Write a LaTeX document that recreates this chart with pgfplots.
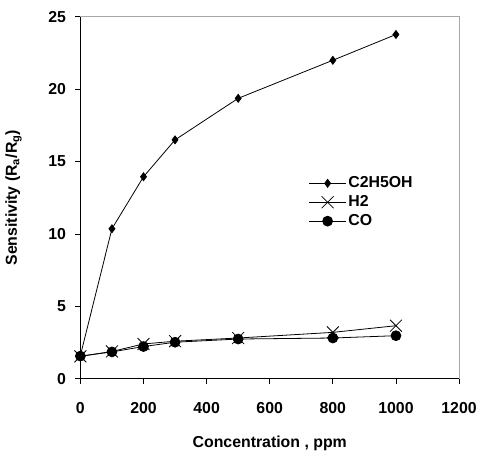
\documentclass[border=0pt]{standalone}
\usepackage{fontspec}
\setmainfont{Liberation Sans}
\usepackage{pgfplots}
\pgfplotsset{compat=1.18}
\begin{document}
\fontsize{16}{19}\selectfont\bfseries
\begin{tikzpicture}
\begin{axis}[
    width=382pt, height=365pt, scale only axis,
    xmin=0, xmax=1200, ymin=0, ymax=25,
    xtick={0,200,...,1200}, ytick={0,5,...,25},
    axis x line*=bottom, axis y line*=left,
    axis line style={line width=1.2pt, -},
    tick align=outside, major tick length=5pt,
    tick style={black, line width=0.8pt},
    /pgf/number format/assume math mode=true,
    /pgf/number format/set thousands separator={},
    every tick label/.append style={font=\fontsize{16}{19}\selectfont\bfseries},
    label style={font=\fontsize{16}{19}\selectfont\bfseries},
    xticklabel style={yshift=-13pt},
    yticklabel style={xshift=-4pt},
    xlabel={Concentration , ppm},
    ylabel={Sensitivity (R$_\mathbf{a}$/R$_\mathbf{g}$)},
    xlabel style={yshift=-12pt},
    ylabel style={yshift=16pt},
    legend style={draw=none, fill=none, at={(0.595,0.57)}, anchor=north west,
        font=\fontsize{16}{19}\selectfont\bfseries, row sep=1.5pt,
        legend cell align=left},
    legend image code/.code={
        \draw[#1, mark repeat=2, mark phase=2] plot coordinates {(0cm,0cm) (0.65cm,0cm) (1.3cm,0cm)};},
    after end axis/.code={
        \draw[gray!70, line width=1pt] (rel axis cs:0,1) -- (rel axis cs:1,1) -- (rel axis cs:1,0);
        \path (rel axis cs:0,1) -- ++(0pt,17pt);},
]
\addplot[black, line width=0.8pt, mark=diamond*, mark size=4pt] coordinates {
    (0,1.6) (100,10.36) (200,13.95) (300,16.5) (500,19.37) (800,22.0) (1000,23.78)};
\addlegendentry{C2H5OH}
\addplot[black, line width=0.8pt, mark=x, mark size=8.5pt, mark options={line width=0.8pt}] coordinates {
    (0,1.54) (100,1.88) (200,2.4) (300,2.59) (500,2.81) (800,3.2) (1000,3.66)};
\addlegendentry{H2}
\addplot[black, line width=0.8pt, mark=*, mark size=5pt] coordinates {
    (0,1.56) (100,1.85) (200,2.22) (300,2.52) (500,2.74) (800,2.81) (1000,2.97)};
\addlegendentry{CO}
\end{axis}
\end{tikzpicture}
\end{document}
